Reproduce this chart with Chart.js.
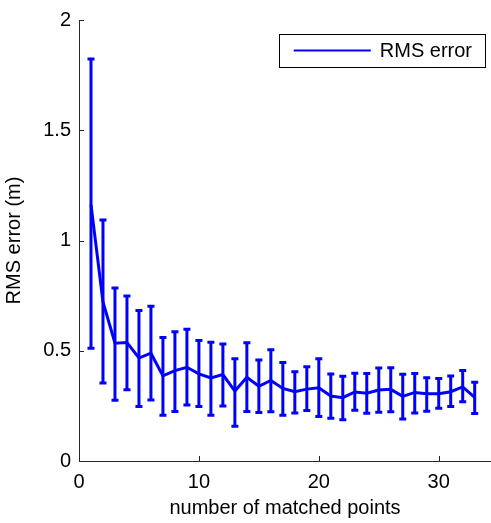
<!DOCTYPE html>
<html>
<head>
<meta charset="utf-8">
<script src="https://cdn.jsdelivr.net/npm/chart.js@4/dist/chart.umd.min.js"></script>
<style>
  html, body { margin: 0; padding: 0; background: #fff; }
  #wrap { width: 491px; height: 523px; }
</style>
</head>
<body>
<div id="wrap"><canvas id="myChart" width="491" height="523"></canvas></div>
<script>
// number of matched points
let points = [1, 2, 3, 4, 5, 6, 7, 8, 9, 10, 11, 12, 13, 14, 15, 16, 17,
    18, 19, 20, 21, 22, 23, 24, 25, 26, 27, 28, 29, 30, 31, 32, 33];
// mean RMS error (m)
let rms_error = [1.163, 0.721, 0.534, 0.537, 0.467, 0.489, 0.386, 0.410, 0.425, 0.395, 0.377,
    0.392, 0.317, 0.380, 0.339, 0.365, 0.329, 0.314, 0.326, 0.332, 0.295, 0.287,
    0.313, 0.307, 0.322, 0.325, 0.293, 0.311, 0.305, 0.305, 0.314, 0.336, 0.289];
// error bar ends
let err_upper = [1.823, 1.093, 0.785, 0.748, 0.682, 0.702, 0.560, 0.586, 0.597, 0.546, 0.538,
    0.531, 0.464, 0.536, 0.458, 0.504, 0.447, 0.405, 0.428, 0.464, 0.395, 0.384,
    0.398, 0.397, 0.422, 0.423, 0.393, 0.397, 0.378, 0.374, 0.386, 0.410, 0.357];
let err_lower = [0.511, 0.354, 0.275, 0.323, 0.247, 0.277, 0.208, 0.224, 0.254, 0.247, 0.208,
    0.250, 0.158, 0.224, 0.220, 0.223, 0.208, 0.218, 0.229, 0.202, 0.194, 0.187,
    0.230, 0.217, 0.221, 0.223, 0.191, 0.218, 0.226, 0.239, 0.247, 0.269, 0.215];
let x_ticks = [0, 10, 20, 30];
let y_ticks = [0, 0.5, 1, 1.5, 2];
let y_tick_labels = ['0', '0.5', '1', '1.5', '2'];

const FONT = 'Liberation Sans, Arial, Helvetica, sans-serif';
const BLUE = '#0000ff';

// vertical error bars with small caps
const errorBars = {
    id: 'errorBars',
    beforeDatasetsDraw(chart) {
        let ctx = chart.ctx;
        let xs = chart.scales.x, ys = chart.scales.y;
        ctx.save();
        ctx.strokeStyle = BLUE;
        ctx.lineWidth = 3;
        ctx.lineCap = 'butt';
        for (let i = 0; i < points.length; i++) {
            let px = xs.getPixelForValue(points[i]);
            let top = ys.getPixelForValue(err_upper[i]);
            let bot = ys.getPixelForValue(err_lower[i]);
            ctx.beginPath();
            ctx.moveTo(px, top - 1.5);
            ctx.lineTo(px, bot + 1.5);
            ctx.moveTo(px - 3.5, top);
            ctx.lineTo(px + 3.5, top);
            ctx.moveTo(px - 3.5, bot);
            ctx.lineTo(px + 3.5, bot);
            ctx.stroke();
        }
        ctx.restore();
    }
};

// inward ticks + boxed legend, matlab style
const matlabBits = {
    id: 'matlabBits',
    afterDraw(chart) {
        let ctx = chart.ctx;
        let xs = chart.scales.x, ys = chart.scales.y;
        let area = chart.chartArea;
        ctx.save();
        ctx.strokeStyle = '#262626';
        ctx.lineWidth = 1;
        ctx.beginPath();
        x_ticks.forEach(v => {
            let px = Math.round(xs.getPixelForValue(v)) + 0.5;
            ctx.moveTo(px, area.bottom);
            ctx.lineTo(px, area.bottom - 5);
        });
        y_ticks.forEach(v => {
            let py = Math.round(ys.getPixelForValue(v)) + 0.5;
            ctx.moveTo(area.left, py);
            ctx.lineTo(area.left + 5, py);
        });
        ctx.stroke();

        // legend
        let label = chart.data.datasets[0].label;
        ctx.font = '20px ' + FONT;
        let tw = ctx.measureText(label).width;
        let boxR = area.right - 6, boxT = area.top + 14, boxH = 33;
        let boxW = 15 + 77 + 9 + tw + 13;
        let boxL = boxR - boxW;
        ctx.fillStyle = '#fff';
        ctx.fillRect(boxL, boxT, boxW, boxH);
        ctx.strokeStyle = '#000';
        ctx.strokeRect(Math.round(boxL) + 0.5, boxT + 0.5, Math.round(boxW), boxH);
        let midY = boxT + boxH / 2;
        ctx.strokeStyle = BLUE;
        ctx.lineWidth = 2;
        ctx.beginPath();
        ctx.moveTo(boxL + 15, midY);
        ctx.lineTo(boxL + 92, midY);
        ctx.stroke();
        ctx.fillStyle = '#000';
        ctx.textBaseline = 'middle';
        ctx.textAlign = 'left';
        ctx.fillText(label, boxL + 101, midY + 1);
        ctx.restore();
    }
};

function myChart() {
    let ctx = document.getElementById('myChart').getContext('2d');
    let myChart = new Chart(ctx, {
        type: 'line',
        data: {
            datasets: [{
                label: 'RMS error',
                data: points.map((p, i) => ({ x: p, y: rms_error[i] })),
                borderColor: BLUE,
                backgroundColor: BLUE,
                borderWidth: 3,
                pointRadius: 0,
                tension: 0,
                fill: false
            }]
        },
        options: {
            responsive: false,
            animation: false,
            events: [],
            layout: { padding: { top: 16, right: 0, left: 0, bottom: 0 } },
            plugins: {
                legend: { display: false },
                tooltip: { enabled: false }
            },
            scales: {
                x: {
                    type: 'linear',
                    min: 0,
                    max: 34.36,
                    afterBuildTicks: s => { s.ticks = x_ticks.map(v => ({ value: v })); },
                    afterFit: s => { s.height = 62; },
                    grid: { drawOnChartArea: false, drawTicks: false },
                    border: { display: true, color: '#262626', width: 1 },
                    ticks: { color: '#000', padding: 9, font: { family: FONT, size: 20 } },
                    title: {
                        display: true,
                        text: 'number of matched points',
                        color: '#000',
                        font: { family: FONT, size: 20 },
                        padding: { top: 0, bottom: 3 }
                    }
                },
                y: {
                    min: 0,
                    max: 2,
                    afterBuildTicks: s => { s.ticks = y_ticks.map(v => ({ value: v })); },
                    afterFit: s => { s.width = 79; },
                    grid: { drawOnChartArea: false, drawTicks: false },
                    border: { display: true, color: '#262626', width: 1 },
                    ticks: {
                        color: '#000',
                        padding: 8,
                        font: { family: FONT, size: 20 },
                        callback: (v, i) => y_tick_labels[i]
                    },
                    title: {
                        display: true,
                        text: 'RMS error (m)',
                        color: '#000',
                        font: { family: FONT, size: 20 },
                        padding: { top: 2, bottom: 0 }
                    }
                }
            }
        },
        plugins: [errorBars, matlabBits]
    });
}
myChart()
</script>
</body>
</html>
